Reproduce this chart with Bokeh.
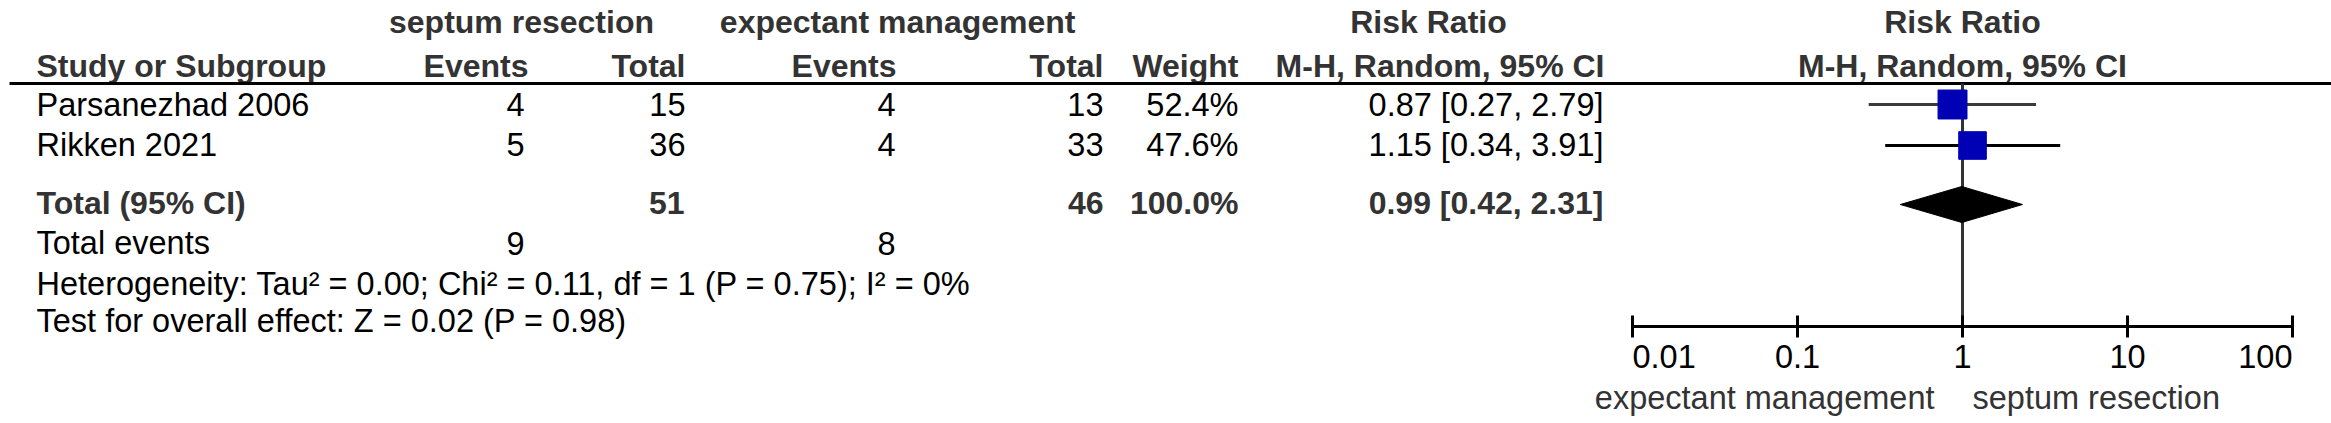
from bokeh.plotting import figure
from bokeh.models import Range1d, LogScale, ColumnDataSource
from bokeh.embed import file_html
from bokeh.resources import INLINE
from bokeh.core.properties import value

# ---------------- data ----------------
studies = ["Parsanezhad 2006", "Rikken 2021"]
sr_events = [4, 5]
sr_total = [15, 36]
em_events = [4, 4]
em_total = [13, 33]
weights = [52.4, 47.6]
rr = [0.87, 1.15]
rr_lo = [0.27, 0.34]
rr_hi = [2.79, 3.91]

total_sr = 51
total_em = 46
total_weight = 100.0
events_sr = 9
events_em = 8
pooled = 0.99
pooled_lo = 0.42
pooled_hi = 2.31

ticks = [0.01, 0.1, 1, 10, 100]
tick_labels = ["0.01", "0.1", "1", "10", "100"]

group1 = "septum resection"
group2 = "expectant management"
heterogeneity = "Heterogeneity: Tau\u00b2 = 0.00; Chi\u00b2 = 0.11, df = 1 (P = 0.75); I\u00b2 = 0%"
overall = "Test for overall effect: Z = 0.02 (P = 0.98)"

# ---------------- layout (pixel positions) ----------------
W, H = 2331, 423
FONT = value("Liberation Sans")
FS_B = "32px"
FS_R = "32.5px"
GRAY = "#333333"

# text rows
y_h1, y_h2 = 21, 65.5
y_rows = [104, 144]
y_total, y_tev, y_het, y_test = 202.5, 242.5, 283.5, 320.5
y_tl, y_bl = 356, 397
# marks
y_line = 83
y_marks = [104, 145]
y_diamond = 204
y_axis = 326

# log scale anchor: RR=1 at x=1962, 165 px per decade
x_one, decade = 1962.0, 165.0
lo_exp = -x_one / decade
hi_exp = (W - x_one) / decade

p = figure(width=W, height=H, x_range=Range1d(0, W), y_range=Range1d(H, 0),
           output_backend="svg", toolbar_location=None, min_border=0,
           x_axis_location=None, y_axis_location=None, outline_line_color=None)
p.xgrid.visible = False
p.ygrid.visible = False
p.extra_x_ranges = {"rr": Range1d(10 ** lo_exp, 10 ** hi_exp)}
p.extra_x_scales = {"rr": LogScale()}


def txt(x, y, t, align="left", bold=False, color="black", rng=None, xoff=0):
    kw = dict(text_font=FONT, text_font_size=FS_B if bold else FS_R,
              text_baseline="alphabetic", text_align=align, text_color=color,
              x_offset=xoff, text_font_style="bold" if bold else "normal")
    if rng:
        kw["x_range_name"] = rng
    src = ColumnDataSource(dict(x=list(x), y=list(y), t=list(t)))
    p.text(x="x", y="y", text="t", source=src, **kw)


# headers
txt([521], [y_h1], [group1], "center", True, GRAY)
txt([1075], [y_h1], [group2], "right", True, GRAY)
txt([1428], [y_h1], ["Risk Ratio"], "center", True, GRAY)
txt([1], [y_h1], ["Risk Ratio"], "center", True, GRAY, rng="rr")

txt([36], [y_h2], ["Study or Subgroup"], "left", True, GRAY)
txt([528, 685, 896, 1103, 1238, 1604], [y_h2] * 6,
    ["Events", "Total", "Events", "Total", "Weight", "M-H, Random, 95% CI"], "right", True, GRAY)
txt([1], [y_h2], ["M-H, Random, 95% CI"], "center", True, GRAY, rng="rr")

p.segment(x0=[9], x1=[W], y0=[y_line], y1=[y_line], line_color="black", line_width=3)

# study rows
txt([36] * len(studies), y_rows, studies, "left")
txt([524] * 2, y_rows, [str(v) for v in sr_events], "right")
txt([685] * 2, y_rows, [str(v) for v in sr_total], "right")
txt([895] * 2, y_rows, [str(v) for v in em_events], "right")
txt([1103] * 2, y_rows, [str(v) for v in em_total], "right")
txt([1238] * 2, y_rows, [f"{w:.1f}%" for w in weights], "right")
txt([1603] * 2, y_rows, [f"{a:.2f} [{b:.2f}, {c:.2f}]" for a, b, c in zip(rr, rr_lo, rr_hi)], "right")

# total row
txt([36], [y_total], ["Total (95% CI)"], "left", True, GRAY)
txt([684], [y_total], [str(total_sr)], "right", True, GRAY)
txt([1103], [y_total], [str(total_em)], "right", True, GRAY)
txt([1238], [y_total], [f"{total_weight:.1f}%"], "right", True, GRAY)
txt([1603], [y_total], [f"{pooled:.2f} [{pooled_lo:.2f}, {pooled_hi:.2f}]"], "right", True, GRAY)

txt([36], [y_tev], ["Total events"], "left")
txt([524], [y_tev], [str(events_sr)], "right")
txt([895], [y_tev], [str(events_em)], "right")
txt([36], [y_het], [heterogeneity], "left")
txt([36], [y_test], [overall], "left")

# forest: vertical line of no effect
p.segment(x0=[1], x1=[1], y0=[y_line], y1=[y_axis], x_range_name="rr",
          line_color=GRAY, line_width=3)
# CIs
p.segment(x0=rr_lo, x1=rr_hi, y0=y_marks, y1=y_marks, x_range_name="rr",
          line_color=["#3a3a3a", "black"], line_width=3)
# squares sized by weight
sizes = [4.0 * w ** 0.5 for w in weights]
p.rect(x=rr, y=y_marks, width=sizes, height=sizes, width_units="screen", height_units="screen",
       x_range_name="rr", fill_color="#0000b4", line_color="#0000b4")
# diamond
half = 18
p.patch(x=[pooled_lo, pooled, pooled_hi, pooled],
        y=[y_diamond, y_diamond - half, y_diamond, y_diamond + half],
        x_range_name="rr", fill_color="black", line_color="black")

# axis
p.segment(x0=[ticks[0]], x1=[ticks[-1]], y0=[y_axis], y1=[y_axis], x_range_name="rr",
          line_color="black", line_width=3)
p.segment(x0=ticks, x1=ticks, y0=[y_axis - 11] * len(ticks), y1=[y_axis + 11] * len(ticks),
          x_range_name="rr", line_color="black", line_width=3)
txt([ticks[0]], [y_tl], [tick_labels[0]], "left", rng="rr")
txt(ticks[1:-1], [y_tl] * 3, tick_labels[1:-1], "center", rng="rr")
txt([ticks[-1]], [y_tl], [tick_labels[-1]], "right", rng="rr")

txt([1], [y_bl], [group2], "right", False, GRAY, rng="rr", xoff=-28)
txt([1], [y_bl], [group1], "left", False, GRAY, rng="rr", xoff=10)

open("out.html", "w").write(file_html(p, INLINE))
